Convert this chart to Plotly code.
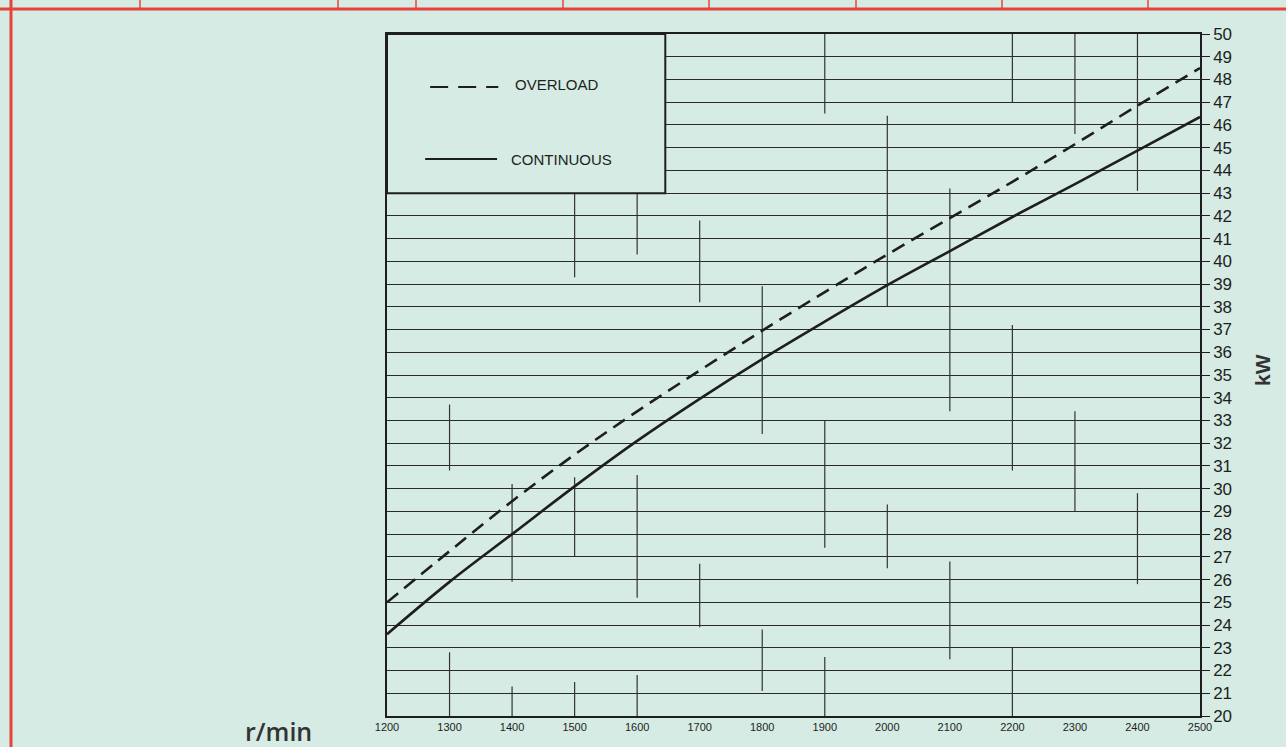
import plotly.graph_objects as go

# ---------------- data ----------------
rpm = [1200, 1300, 1400, 1500, 1600, 1700, 1800, 1900, 2000, 2100, 2200, 2300, 2400, 2500]
continuous_kw = [23.6, 25.9, 28.0, 30.1, 32.1, 33.95, 35.7, 37.35, 38.95, 40.45, 41.95, 43.4, 44.87, 46.35]
overload_kw = [25.0, 27.25, 29.45, 31.5, 33.4, 35.2, 36.95, 38.65, 40.3, 41.9, 43.5, 45.15, 46.85, 48.5]

x_ticks = [1200, 1300, 1400, 1500, 1600, 1700, 1800, 1900, 2000, 2100, 2200, 2300, 2400, 2500]
y_ticks = list(range(20, 51))

# partial vertical grid segments of the printed chart sheet (r/min, kW from, kW to)
seg_x = [1300, 1300, 1400, 1400, 1500, 1500, 1500, 1600, 1600, 1600, 1700, 1700,
         1800, 1800, 1900, 1900, 1900, 2000, 2000, 2100, 2100, 2200, 2200, 2200,
         2300, 2300, 2400, 2400]
seg_lo = [30.8, 20.0, 25.9, 20.0, 27.0, 20.0, 39.3, 25.2, 20.0, 40.3, 23.9, 38.2,
          21.1, 32.4, 20.0, 27.4, 46.5, 26.5, 38.0, 22.5, 33.4, 20.0, 30.8, 47.0,
          29.0, 45.6, 25.8, 43.1]
seg_hi = [33.7, 22.8, 30.2, 21.3, 30.5, 21.5, 43.0, 30.6, 21.8, 43.0, 26.7, 41.8,
          23.8, 38.9, 22.6, 33.0, 50.0, 29.3, 46.4, 26.8, 43.2, 23.0, 37.2, 50.0,
          33.4, 50.0, 29.8, 50.0]

legend_names = ["OVERLOAD", "CONTINUOUS"]

# ---------------- style ----------------
BG = "#d5ebe3"
INK = "#1e1e1e"
RED = "#e8433b"
FONT = "Liberation Sans, Arial, sans-serif"

fig = go.Figure()

# vertical segments
vx, vy = [], []
for x, lo, hi in zip(seg_x, seg_lo, seg_hi):
    vx += [x, x, None]
    vy += [lo, hi, None]
fig.add_trace(go.Scatter(x=vx, y=vy, mode="lines", line=dict(color="#333333", width=1.2),
                         hoverinfo="skip", showlegend=False))

fig.add_trace(go.Scatter(x=rpm, y=overload_kw, mode="lines", name=legend_names[0],
                         line=dict(color=INK, width=2.6, dash="14px,8px", shape="spline", smoothing=1.0),
                         showlegend=False))
fig.add_trace(go.Scatter(x=rpm, y=continuous_kw, mode="lines", name=legend_names[1],
                         line=dict(color=INK, width=2.6, shape="spline", smoothing=1.0),
                         showlegend=False))

shapes = []
# legend box covering the grid
shapes.append(dict(type="rect", xref="x", yref="y", x0=1200, x1=1645, y0=43, y1=50,
                   fillcolor=BG, line=dict(color=INK, width=2), layer="above"))
# legend samples
shapes.append(dict(type="line", xref="x", yref="y", x0=1269, x1=1378, y0=47.67, y1=47.67,
                   line=dict(color=INK, width=2, dash="18px,10px"), layer="above"))
shapes.append(dict(type="line", xref="x", yref="y", x0=1261, x1=1376, y0=44.5, y1=44.5,
                   line=dict(color=INK, width=2), layer="above"))

# red sheet frame
W, H = 1286, 747
def px_x(p):
    return (p - 387) / (1200 - 387)
def px_y(p):
    return (716 - p) / (716 - 34)

shapes.append(dict(type="line", xref="paper", yref="paper", x0=px_x(0), x1=px_x(W),
                   y0=px_y(9), y1=px_y(9), line=dict(color=RED, width=3), layer="above"))
shapes.append(dict(type="line", xref="paper", yref="paper", x0=px_x(11), x1=px_x(11),
                   y0=px_y(0), y1=px_y(H), line=dict(color=RED, width=3), layer="above"))
for xp in [140, 338, 416, 563, 709, 856, 1002, 1148]:
    shapes.append(dict(type="line", xref="paper", yref="paper", x0=px_x(xp), x1=px_x(xp),
                       y0=px_y(0), y1=px_y(9), line=dict(color=RED, width=1.5), layer="above"))

annotations = [
    dict(x=1401, y=47.8, xref="x", yref="y", text=legend_names[0], showarrow=False,
         xanchor="left", yanchor="middle", font=dict(family=FONT, size=15, color=INK)),
    dict(x=1395, y=44.5, xref="x", yref="y", text=legend_names[1], showarrow=False,
         xanchor="left", yanchor="middle", font=dict(family=FONT, size=15, color=INK)),
    dict(x=px_x(1262), y=px_y(370), xref="paper", yref="paper", text="<b>kW</b>",
         showarrow=False, textangle=-90, xanchor="center", yanchor="middle",
         font=dict(family=FONT, size=21, color="#333333")),
    dict(x=px_x(278), y=px_y(731), xref="paper", yref="paper", text="r/min",
         showarrow=False, xanchor="center", yanchor="middle",
         font=dict(family="Open Sans, sans-serif", size=25, color="#333333", weight=600)),
]

fig.update_layout(
    width=W, height=H,
    paper_bgcolor=BG, plot_bgcolor=BG,
    margin=dict(l=387, r=86, t=34, b=31),
    shapes=shapes, annotations=annotations,
    showlegend=False,
    xaxis=dict(range=[1200, 2500], tickvals=x_ticks, ticktext=[str(v) for v in x_ticks],
               showgrid=False, zeroline=False, ticks="", ticklen=0,
               tickfont=dict(family=FONT, size=11, color=INK),
               showline=True, linecolor=INK, linewidth=1.5, mirror=True),
    yaxis=dict(range=[20, 50], tickvals=y_ticks, side="right",
               showgrid=True, gridcolor="#2a2a2a", gridwidth=1.3, zeroline=False,
               ticks="outside", ticklen=8, tickcolor=INK, tickwidth=1,
               tickfont=dict(family=FONT, size=17, color=INK),
               showline=True, linecolor=INK, linewidth=1.5, mirror=True),
)

fig.write_html(
    "out.html",
    config={"displayModeBar": False},
    post_script="document.body.style.margin='0px';document.body.style.background='" + BG + "';document.body.style.overflow='hidden';",
)
